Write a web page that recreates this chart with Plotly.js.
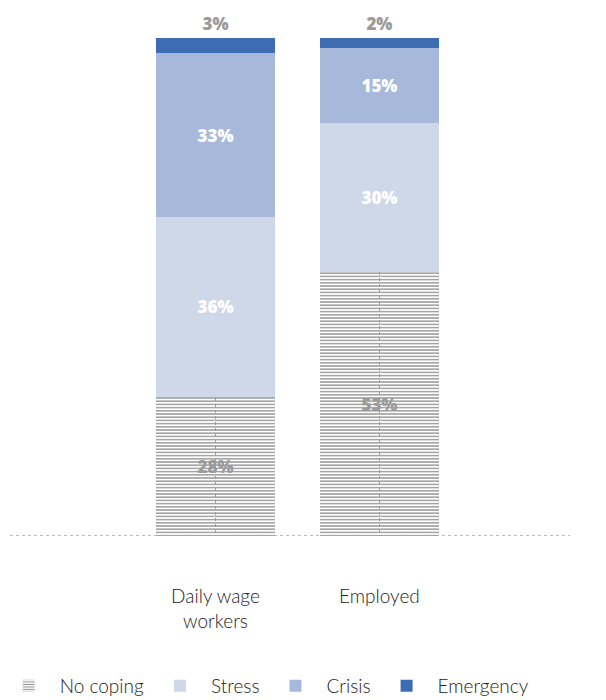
<!DOCTYPE html>
<html>
<head>
<meta charset="utf-8">
<script src="https://cdn.plot.ly/plotly-3.0.1.min.js"></script>
<style>html,body{margin:0;padding:0;background:#fff;}#chart{width:606px;height:700px;}</style>
</head>
<body>
<div id="chart"></div>
<script>
const categories = ["Daily wage<br>workers", "Employed"];
const noCoping = [28, 53];
const stress = [36, 30];
const crisis = [33, 15];
const emergency = [3, 2];
const seriesNames = ["No coping", "Stress", "Crisis", "Emergency"];

const pct = arr => arr.map(v => v + "%");
const lblFont = {family: "'Open Sans', Lato, sans-serif", size: 17, weight: 800};

const traces = [
  {
    type: "bar", name: seriesNames[0], x: categories, y: noCoping,
    text: pct(noCoping), textposition: "inside", insidetextanchor: "middle",
    textfont: Object.assign({}, lblFont, {color: "#9a9a9a"}),
    marker: {color: "rgba(0,0,0,0)", pattern: {shape: "-", fgcolor: "#9a9a9a", bgcolor: "rgba(0,0,0,0)", size: 3.2, solidity: 0.45, fillmode: "replace"}, line: {width: 0}},
    hoverinfo: "none"
  },
  {
    type: "bar", name: seriesNames[1], x: categories, y: stress,
    text: pct(stress), textposition: "inside", insidetextanchor: "middle",
    textfont: Object.assign({}, lblFont, {color: "#ffffff"}),
    marker: {color: "#cfd8e8", line: {width: 0}}, hoverinfo: "none"
  },
  {
    type: "bar", name: seriesNames[2], x: categories, y: crisis,
    text: pct(crisis), textposition: "inside", insidetextanchor: "middle",
    textfont: Object.assign({}, lblFont, {color: "#ffffff"}),
    marker: {color: "#a6b9da", line: {width: 0}}, hoverinfo: "none"
  },
  {
    type: "bar", name: seriesNames[3], x: categories, y: emergency,
    text: pct(emergency), textposition: "outside", cliponaxis: false,
    textfont: Object.assign({}, lblFont, {color: "#9a9a9a"}),
    outsidetextfont: Object.assign({}, lblFont, {color: "#9a9a9a"}),
    marker: {color: "#3e6cb3", line: {width: 0}}, hoverinfo: "none"
  }
];

const layout = {
  width: 606, height: 700,
  margin: {l: 10, r: 36, t: 38, b: 164, pad: 0, autoexpand: false},
  paper_bgcolor: "#ffffff", plot_bgcolor: "#ffffff",
  barmode: "stack",
  bargap: 0.274,
  showlegend: true,
  font: {family: "Lato, 'Open Sans', sans-serif", color: "#222222"},
  xaxis: {
    type: "category",
    range: [-1.253, 2.162],
    showgrid: true, griddash: "dot", gridcolor: "#9a9a9a", gridwidth: 1,
    zeroline: false, showline: false, automargin: false,
    ticks: "", ticklabelstandoff: 47,
    tickfont: {family: "Lato, 'Open Sans', sans-serif", size: 19, color: "#222222", weight: 300},
    fixedrange: true
  },
  yaxis: {
    range: [0, 100], showgrid: false, zeroline: false, showline: false,
    showticklabels: false, ticks: "", fixedrange: true, automargin: false
  },
  shapes: [
    {type: "line", xref: "paper", yref: "y", x0: 0, x1: 1, y0: 0, y1: 0,
     line: {color: "#a8a8a8", width: 1.5, dash: "dot"}, layer: "above"}
  ],
  legend: {
    orientation: "h", x: -0.022, y: -0.301, xanchor: "left", yanchor: "middle",
    font: {family: "Lato, 'Open Sans', sans-serif", size: 19, color: "#222222", weight: 300},
    itemwidth: 52, traceorder: "normal", itemclick: false, itemdoubleclick: false
  }
};

Plotly.newPlot("chart", traces, layout, {displayModeBar: false, staticPlot: true});
</script>
</body>
</html>
